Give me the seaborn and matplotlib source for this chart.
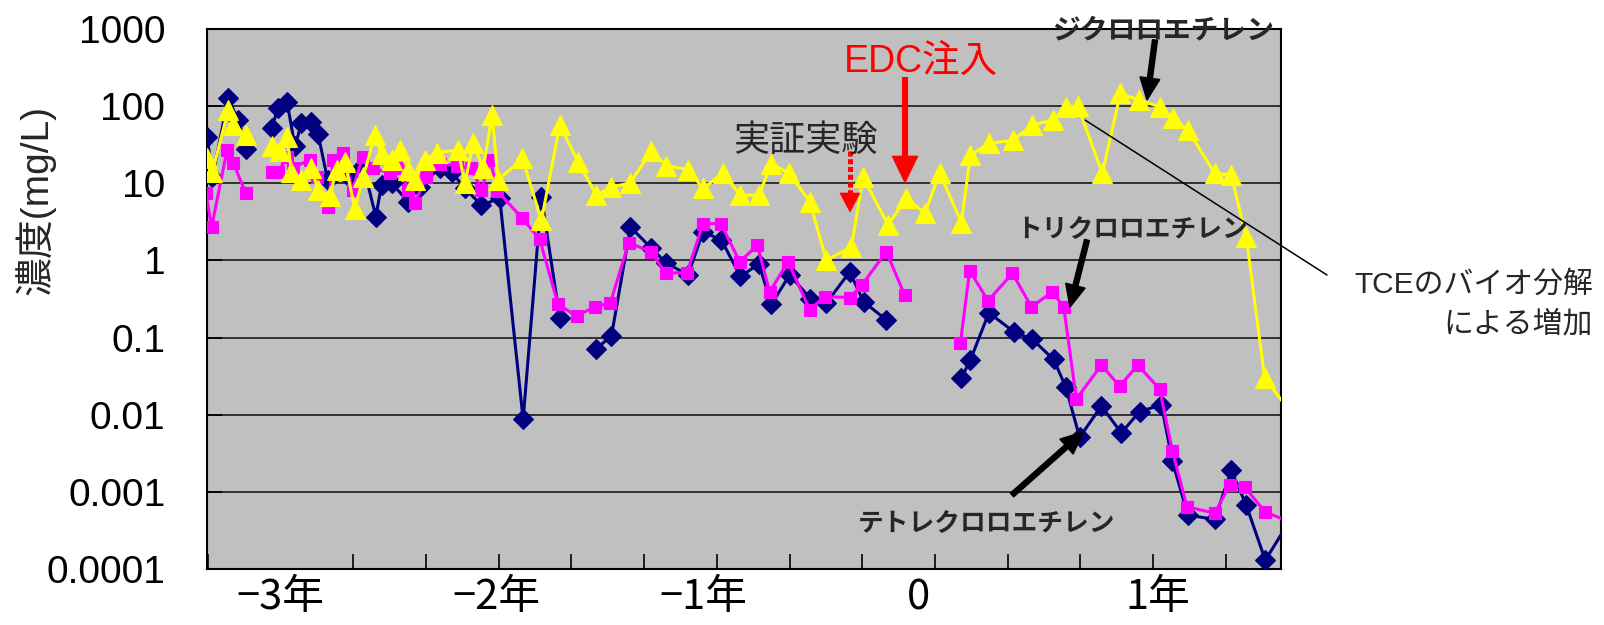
import numpy as np
import pandas as pd
import matplotlib
matplotlib.use("Agg")
import matplotlib.pyplot as plt
from matplotlib.patches import FancyArrow, Polygon
from matplotlib.ticker import FixedLocator, NullLocator
import seaborn as sns

nan = np.nan

# Sampling time in years relative to the start of EDC injection.
# NaN marks a break in the record (no line is drawn across it).
pce_year = [-3.336, -3.312, -3.240, -3.194, -3.156, nan, -3.041, -3.011, -2.970, -2.934,
            -2.904, -2.858, -2.828, -2.784, -2.686, -2.621, -2.563, -2.537, -2.491, -2.415,
            -2.362, -2.270, -2.216, -2.155, -2.079, -1.995, -1.888, -1.804, -1.720, nan,
            -1.552, -1.483, -1.396, -1.300, -1.231, -1.132, -1.063, -0.979, -0.892, -0.807,
            -0.750, -0.666, -0.571, -0.498, -0.391, -0.327, -0.223, nan, 0.121, 0.162,
            0.247, 0.361, 0.446, 0.544, 0.599, 0.663, 0.763, 0.854, 0.938, 1.038,
            1.088, 1.159, 1.282, 1.358, 1.427, 1.514, 1.671]
pce_conc = [40, 12, 126, 66, 28, nan, 52, 94, 114, 30,
            60, 63, 44, 11, 12, 17, 3.7, 9.5, 10, 5.8,
            9, 16, 14, 8.6, 5.2, 6.4, 0.0087, 6.6, 0.18, nan,
            0.072, 0.105, 2.7, 1.44, 0.92, 0.65, 2.35, 1.84, 0.62, 0.9,
            0.27, 0.65, 0.32, 0.28, 0.71, 0.29, 0.17, nan, 0.030, 0.051,
            0.21, 0.119, 0.095, 0.052, 0.023, 0.0051, 0.013, 0.0058, 0.011, 0.0134,
            0.0025, 0.0005, 0.00044, 0.0019, 0.00067, 0.00013, 0.00068]

tce_year = [-3.342, -3.316, -3.245, -3.217, -3.159, nan, -3.041, -3.011, -2.970, -2.944,
            -2.866, -2.835, -2.782, -2.759, -2.713, -2.670, -2.624, -2.576, -2.499, -2.453,
            -2.415, -2.385, -2.331, -2.270, -2.193, -2.125, -2.079, -2.038, -2.007, -1.895,
            -1.812, -1.728, -1.643, -1.560, -1.488, -1.404, -1.304, -1.234, -1.137, -1.063,
            -0.982, -0.895, -0.814, -0.758, -0.674, -0.574, -0.505, -0.391, -0.335, -0.223,
            -0.139, nan, 0.116, 0.159, 0.243, 0.355, 0.442, 0.538, 0.590, 0.648,
            0.763, 0.846, 0.930, 1.030, 1.088, 1.155, 1.282, 1.351, 1.419, 1.514, 1.671]
tce_conc = [7.4, 2.7, 27, 18.5, 7.4, nan, 14, 14, 22, 16,
            20, 12, 5, 20, 25, 8.2, 22, 15.6, 13.7, 16,
            8.2, 5.6, 12, 18, 16.7, 15.6, 8.2, 20, 8, 3.6,
            1.88, 0.27, 0.19, 0.25, 0.28, 1.7, 1.3, 0.69, 0.69, 3.0,
            3.0, 0.96, 1.58, 0.39, 0.96, 0.23, 0.34, 0.33, 0.48, 1.3,
            0.355, nan, 0.084, 0.74, 0.30, 0.68, 0.25, 0.39, 0.25, 0.016,
            0.044, 0.0235, 0.044, 0.0214, 0.0034, 0.00064, 0.00053, 0.00123, 0.00115, 0.00055, 0.00036]

dce_year = [-3.339, -3.312, -3.240, -3.217, -3.156, nan, -3.041, -3.003, -2.970, -2.950,
            -2.904, -2.858, -2.828, -2.774, -2.743, -2.705, -2.659, -2.621, -2.568, -2.537,
            -2.491, -2.453, -2.415, -2.385, -2.339, -2.285, -2.186, -2.155, -2.117, -2.071,
            -2.030, -2.003, -1.891, -1.804, -1.720, -1.636, -1.552, -1.483, -1.399, -1.300,
            -1.231, -1.132, -1.063, -0.972, -0.892, -0.807, -0.750, -0.669, -0.574, -0.498,
            -0.383, -0.330, -0.215, -0.131, -0.047, 0.022, 0.121, 0.162, 0.247, 0.357,
            0.446, 0.541, 0.602, 0.655, 0.767, 0.850, 0.935, 1.030, 1.091, 1.159,
            1.282, 1.358, 1.427, 1.511, 1.671]
dce_conc = [21, 14, 89, 57, 42, nan, 30, 26, 40, 14,
            11, 15.6, 8.2, 6.8, 14.9, 19, 4.7, 12, 42, 24,
            20, 27, 14.9, 11, 20, 25, 27, 10, 33, 15.6,
            77, 11, 21, 3.3, 57, 19, 7, 9, 10, 26,
            17, 15, 8.6, 13.5, 7, 7, 18, 13.5, 5.8, 1.0,
            1.5, 12, 2.9, 6.4, 4.1, 13.5, 3.1, 23, 33, 36,
            57, 66, 98, 100, 13.5, 147, 120, 98, 70, 49,
            13.5, 12.8, 2.0, 0.03, 0.0075]

y_ticks = [1e-4, 1e-3, 1e-2, 1e-1, 1, 10, 100, 1000]
y_tick_labels = ["0.0001", "0.001", "0.01", "0.1", "1", "10", "100", "1000"]
x_label_pos = [-3.0, -2.01, -1.06, -0.075, 1.02]
x_labels = ["−3年", "−2年", "−1年", "0", "1年"]
y_title = "濃度(mg/L)"


def series_frame(years, conc):
    df = pd.DataFrame({"year": years, "conc": conc})
    df["segment"] = df["conc"].isna().cumsum()
    return df.dropna()


sns.set_theme(style="white")
plt.rcParams["font.family"] = ["Liberation Sans", "Noto Sans CJK JP", "DejaVu Sans"]
CJK = ["Noto Sans CJK JP", "DejaVu Sans"]

W, H = 1604, 625
fig = plt.figure(figsize=(W / 100, H / 100), dpi=100)
fig.patch.set_facecolor("white")
ax = fig.add_axes([207 / W, 1 - 569 / H, (1281 - 207) / W, (569 - 29) / H])
ax.set_facecolor("#C0C0C0")

series = [
    (pce_year, pce_conc, "#000080", "D", 10.5, 3),
    (tce_year, tce_conc, "#FF00FF", "s", 9.0, 4),
    (dce_year, dce_conc, "#FFFF00", "^", 15.0, 5),
]
for years, conc, color, marker, ms, z in series:
    sns.lineplot(data=series_frame(years, conc), x="year", y="conc",
                 units="segment", estimator=None, sort=False,
                 color=color, marker=marker, markersize=ms,
                 markeredgecolor=color, markeredgewidth=0.8,
                 linewidth=2.2, ax=ax, legend=False, zorder=z)

ax.set_yscale("log")
ax.set_ylim(1e-4, 1e3)
ax.set_xlim(-3.337, 1.586)
ax.set_yticks(y_ticks)
ax.set_yticklabels(y_tick_labels)
ax.yaxis.set_minor_locator(NullLocator())
ax.set_xticks(x_label_pos)
ax.set_xticklabels(x_labels, fontfamily=CJK)
ax.xaxis.set_minor_locator(FixedLocator(np.arange(-10, 5) / 3))

ax.tick_params(axis="y", which="major", direction="in", length=10.8, width=1.2,
               pad=30, labelsize=28, colors="black", left=True)
ax.tick_params(axis="x", which="major", length=0, pad=6, labelsize=30, colors="black")
ax.tick_params(axis="x", which="minor", direction="in", length=10.8, width=1.2,
               color="black", bottom=True)

ax.yaxis.grid(True, which="major", color="#1a1a1a", linewidth=1.2)
ax.xaxis.grid(False)
ax.set_axisbelow(True)
for sp in ax.spines.values():
    sp.set_visible(True)
    sp.set_color("black")
    sp.set_linewidth(1.5)
ax.set_xlabel("")
ax.set_ylabel("")

# Annotation layer in figure pixel coordinates
ov = fig.add_axes([0, 0, 1, 1], zorder=10)
ov.set_xlim(0, W)
ov.set_ylim(H, 0)
ov.axis("off")
ov.patch.set_visible(False)

# axis title
ov.text(35, 200, y_title, fontsize=28, rotation=90, ha="center", va="center",
        rotation_mode="default")

# EDC injection marker
ov.text(921, 62, "EDC注入", color="red", fontsize=27, ha="center", va="center")
ov.plot([905, 905], [77, 160], color="red", linewidth=4.4, solid_capstyle="butt")
ov.add_patch(Polygon([(892, 156), (918, 156), (905, 183)], closed=True,
                     facecolor="red", edgecolor="red", linewidth=0.5))

# start of the field test
ov.text(805, 141, "実証実験", fontsize=26, ha="center", va="center", fontfamily=CJK)
ov.plot([850, 850], [151, 195], color="red", linewidth=3.6,
        linestyle=(0, (1.0, 0.55)), dash_capstyle="butt")
ov.add_patch(Polygon([(840, 193), (860, 193), (850, 212)], closed=True,
                     facecolor="red", edgecolor="red", linewidth=0.5))

# compound labels with pointers
ov.text(1163, 30, "ジクロロエチレン", fontsize=20, ha="center", va="center",
        fontfamily=CJK, fontweight="bold")
ov.add_patch(FancyArrow(1155, 40, -8, 60, width=5, head_width=20, head_length=22,
                        length_includes_head=True, color="black"))

ov.text(1132, 230, "トリクロロエチレン", fontsize=18.5, ha="center", va="center",
        fontfamily=CJK, fontweight="bold")
ov.add_patch(FancyArrow(1087, 240, -17, 67, width=5, head_width=20, head_length=22,
                        length_includes_head=True, color="black"))

ov.text(987, 524, "テトレクロロエチレン", fontsize=18.5, ha="center", va="center",
        fontfamily=CJK, fontweight="bold")
ov.add_patch(FancyArrow(1012, 495, 71, -63, width=5, head_width=20, head_length=22,
                        length_includes_head=True, color="black"))

# note on the DCE rise
ov.plot([1085, 1327], [120, 275], color="black", linewidth=1.1)
ov.text(1593, 285, "TCEのバイオ分解", fontsize=21.5, ha="right", va="center")
ov.text(1593, 325, "による増加", fontsize=21.5, ha="right", va="center")

fig.savefig("out.png", dpi=100, facecolor="white")
